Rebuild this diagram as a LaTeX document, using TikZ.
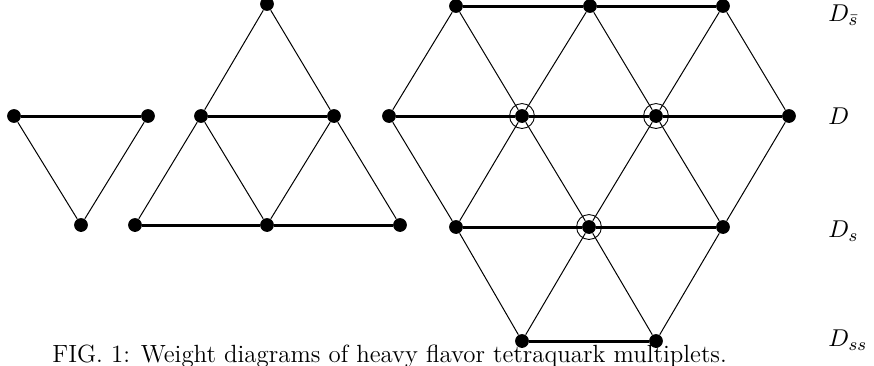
\documentclass[tikz,border=0pt]{standalone}
\usepackage{amsmath,amssymb}
\usepackage{tikz}
\usetikzlibrary{positioning}

\begin{document}
\begin{tikzpicture}[x=0.45pt,y=-0.45pt,every node/.style={inner sep=0pt,font=\fontsize{11.2}{13}\selectfont},wt/.style={circle,fill=black,minimum size=6.2pt},ring/.style={circle,draw,thin,minimum size=11.2pt},row/.style={line width=1.35pt},edge/.style={line width=0.45pt},lab/.style={anchor=west}]
\useasboundingbox (0,0) rectangle (874,365);
% antitriplet
\node[wt] (a1) at (14,116) {}; \node[wt] (a2) at (148,116) {}; \node[wt] (a3) at (81,225) {};
\draw[row] (a1)--(a2);
\draw[edge] (a1)--(a3); \draw[edge] (a2)--(a3);
% sextet
\node[wt] (s1) at (267,4) {};
\node[wt] (s2) at (201,116) {}; \node[wt] (s3) at (334,116) {};
\node[wt] (s4) at (135,225) {}; \node[wt] (s5) at (267,225) {}; \node[wt] (s6) at (400,225) {};
\draw[row] (s2)--(s3); \draw[row] (s4)--(s5)--(s6);
\draw[edge] (s1)--(s2); \draw[edge] (s1)--(s3);
\draw[edge] (s2)--(s4); \draw[edge] (s2)--(s5);
\draw[edge] (s3)--(s5); \draw[edge] (s3)--(s6);
% fifteen-plet
\node[wt] (u1) at (456,6) {}; \node[wt] (u2) at (590,6) {}; \node[wt] (u3) at (723,6) {};
\node[wt] (m1) at (389,116) {}; \node[wt] (m2) at (522,116) {}; \node[wt] (m3) at (656,116) {}; \node[wt] (m4) at (789,116) {};
\node[wt] (l1) at (456,227) {}; \node[wt] (l2) at (589,227) {}; \node[wt] (l3) at (723,227) {};
\node[wt] (b1) at (522,341) {}; \node[wt] (b2) at (656,341) {};
\node[ring] at (m2) {}; \node[ring] at (m3) {}; \node[ring] at (l2) {};
\draw[row] (u1)--(u2)--(u3);
\draw[row] (m1)--(m2)--(m3)--(m4);
\draw[row] (l1)--(l2)--(l3);
\draw[row] (b1)--(b2);
\draw[edge] (u1)--(m1); \draw[edge] (u1)--(m2);
\draw[edge] (u2)--(m2); \draw[edge] (u2)--(m3);
\draw[edge] (u3)--(m3); \draw[edge] (u3)--(m4);
\draw[edge] (m1)--(l1);
\draw[edge] (m2)--(l1); \draw[edge] (m2)--(l2);
\draw[edge] (m3)--(l2); \draw[edge] (m3)--(l3);
\draw[edge] (m4)--(l3);
\draw[edge] (l1)--(b1);
\draw[edge] (l2)--(b1); \draw[edge] (l2)--(b2);
\draw[edge] (l3)--(b2);
% row labels
\node[lab] (dsb) at (828,15) {$D_{\bar s}$};
\node[lab] (d) at (828,116) {$D$};
\node[lab] (ds) at (828,231) {$D_s$};
\node[lab] (dss) at (828,340) {$D_{ss}$};
% caption
\node[anchor=base west] (cap) at (52,362) {FIG. 1: Weight diagrams of heavy flavor tetraquark multiplets.};
\end{tikzpicture}
\end{document}
